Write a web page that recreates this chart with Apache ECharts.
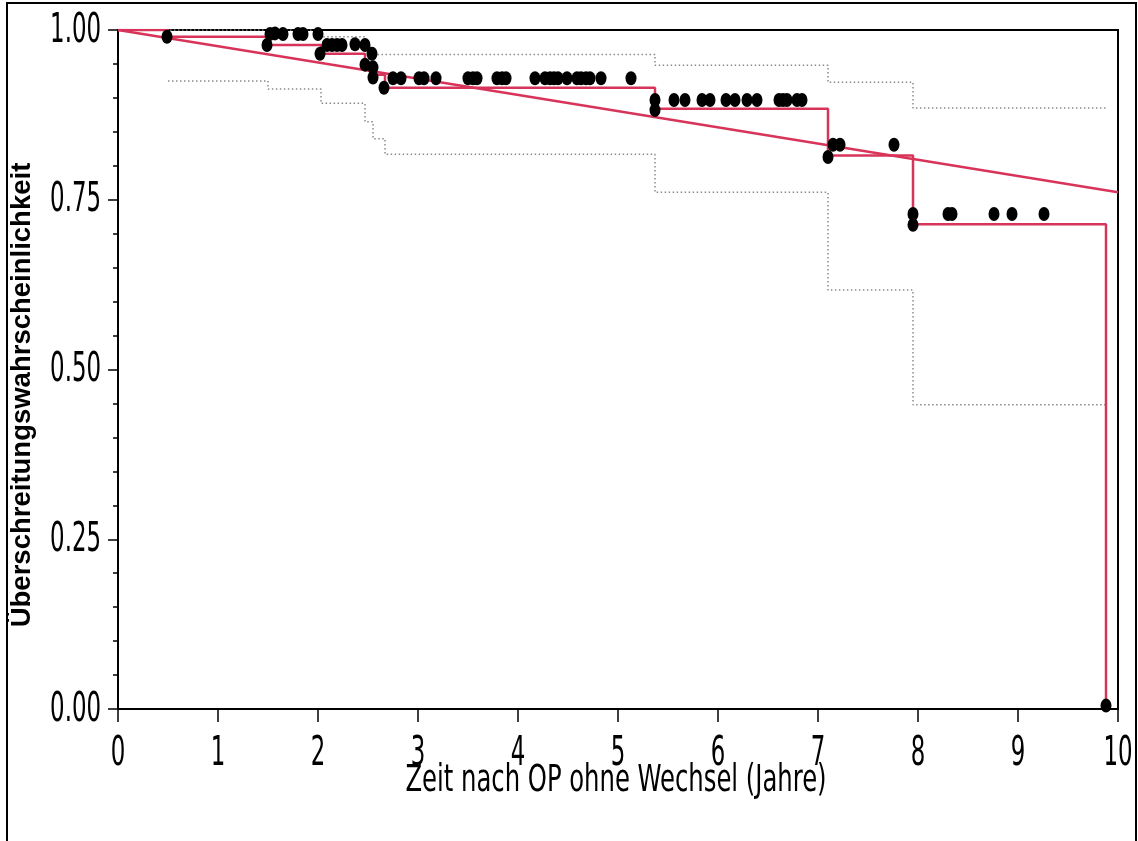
<!DOCTYPE html>
<html>
<head>
<meta charset="utf-8">
<script src="https://cdn.jsdelivr.net/npm/echarts@6/dist/echarts.min.js"></script>
<style>
  html, body { margin: 0; padding: 0; background: #fff; }
  #chart { width: 1138px; height: 841px; }
</style>
</head>
<body>
<div id="chart"></div>
<script>
// Kaplan-Meier estimate (time in years, survival after each event)
const kmTimes = [0, 0.50, 1.50, 2.03, 2.47, 2.55, 2.67, 5.37, 7.10, 7.95, 9.88];
const kmSurv  = [1.0, 0.990, 0.978, 0.965, 0.950, 0.934, 0.915, 0.884, 0.815, 0.714, 0.0];

// Upper and lower confidence bounds
const upperTimes = [0, 2.03, 2.47, 2.55, 5.37, 7.10, 7.95, 9.88];
const upperVals  = [1.0, 0.990, 0.975, 0.964, 0.948, 0.923, 0.885, 0.885];
const lowerTimes = [0.50, 1.50, 2.03, 2.47, 2.55, 2.67, 5.37, 7.10, 7.95, 9.88];
const lowerVals  = [0.925, 0.913, 0.892, 0.865, 0.840, 0.817, 0.761, 0.617, 0.448, 0.448];

// Parametric fit (straight line)
const fitX = [0, 10];
const fitY = [1.0, 0.761];

// Censored / observed markers
const censorTimes = [
  0.49, 1.49, 1.52, 1.57, 1.65, 1.80, 1.85, 2.00, 2.02,
  2.09, 2.14, 2.19, 2.24, 2.37, 2.47, 2.47, 2.54, 2.55, 2.55, 2.66,
  2.75, 2.83, 3.01, 3.06, 3.18, 3.50, 3.55, 3.59, 3.79, 3.84, 3.88,
  4.17, 4.27, 4.32, 4.36, 4.40, 4.49, 4.59, 4.63, 4.68, 4.72, 4.83, 5.13,
  5.37, 5.37, 5.56, 5.67, 5.84, 5.92, 6.08, 6.17, 6.29, 6.39, 6.61, 6.65, 6.69, 6.79, 6.84,
  7.10, 7.15, 7.22, 7.76,
  7.95, 7.95, 8.30, 8.34, 8.76, 8.94, 9.26,
  9.88
];
const censorSurv = [
  0.990, 0.978, 0.994, 0.995, 0.994, 0.994, 0.994, 0.994, 0.965,
  0.978, 0.978, 0.978, 0.978, 0.979, 0.978, 0.949, 0.965, 0.945, 0.930, 0.915,
  0.929, 0.929, 0.929, 0.929, 0.929, 0.929, 0.929, 0.929, 0.929, 0.929, 0.929,
  0.929, 0.929, 0.929, 0.929, 0.929, 0.929, 0.929, 0.929, 0.929, 0.929, 0.929, 0.929,
  0.897, 0.882, 0.897, 0.897, 0.897, 0.897, 0.897, 0.897, 0.897, 0.897, 0.897, 0.897, 0.897, 0.897, 0.897,
  0.813, 0.831, 0.831, 0.831,
  0.729, 0.713, 0.729, 0.729, 0.729, 0.729, 0.729,
  0.005
];

const xTicks = [0, 1, 2, 3, 4, 5, 6, 7, 8, 9, 10];
const yTicks = [0, 0.25, 0.5, 0.75, 1.0];
const xTitle = 'Zeit nach OP ohne Wechsel (Jahre)';
const yTitle = 'Überschreitungswahrscheinlichkeit';

const zip = (a, b) => a.map((v, i) => [v, b[i]]);
const RED = '#d8345a';
const GREY = '#8a8a8a';
const tickFont = "'DejaVu Sans Condensed', 'Liberation Sans Narrow', 'DejaVu Sans', sans-serif";
const ellipse = 'path://M0,-1A1,1 0 1,1 0,1A1,1 0 1,1 0,-1Z';

const chart = echarts.init(document.getElementById('chart'), null, { renderer: 'canvas' });
chart.setOption({
  animation: false,
  backgroundColor: '#fff',
  grid: {
    left: 118, top: 30, width: 1000, height: 679,
    show: true, borderColor: '#000', borderWidth: 2, backgroundColor: 'transparent'
  },
  xAxis: {
    type: 'value', min: 0, max: 10, interval: 1,
    axisLine: { show: true, onZero: false, lineStyle: { color: '#000', width: 2 } },
    axisTick: { show: true, length: 13, lineStyle: { color: '#000', width: 1.5 } },
    axisLabel: { show: false },
    splitLine: { show: false }
  },
  yAxis: {
    type: 'value', min: 0, max: 1, interval: 0.25,
    axisLine: { show: true, onZero: false, lineStyle: { color: '#000', width: 2 } },
    axisTick: { show: true, length: 10, lineStyle: { color: '#000', width: 1.5 } },
    minorTick: { show: true, splitNumber: 5, length: 5, lineStyle: { color: '#000', width: 1.5 } },
    axisLabel: { show: false },
    splitLine: { show: false }
  },
  series: [
    {
      type: 'line', name: 'upper', step: 'end', showSymbol: false,
      data: zip(upperTimes, upperVals),
      lineStyle: { color: GREY, width: 1.5, type: [1.5, 2.5] }, z: 2
    },
    {
      type: 'line', name: 'lower', step: 'end', showSymbol: false,
      data: zip(lowerTimes, lowerVals),
      lineStyle: { color: GREY, width: 1.5, type: [1.5, 2.5] }, z: 2
    },
    {
      type: 'line', name: 'fit', showSymbol: false,
      data: zip(fitX, fitY),
      lineStyle: { color: RED, width: 2.5 }, z: 3
    },
    {
      type: 'line', name: 'km', step: 'end', showSymbol: false,
      data: zip(kmTimes, kmSurv),
      lineStyle: { color: RED, width: 2.5 }, z: 3
    },
    {
      type: 'scatter', name: 'censored',
      data: zip(censorTimes, censorSurv),
      symbol: ellipse, symbolSize: [11, 14],
      itemStyle: { color: '#000', opacity: 1 }, z: 4
    }
  ]
});

// Tick labels in a tall, narrow face: placed through the axis scales,
// squeezed horizontally.
const axisY = chart.convertToPixel({ yAxisIndex: 0 }, 0);
const labelStyle = { fontFamily: tickFont, fontSize: 41, fill: '#000', verticalAlign: 'middle' };
const tickTexts = [];
xTicks.forEach(v => {
  tickTexts.push({
    type: 'text', silent: true, z: 100, scaleX: 0.62,
    x: chart.convertToPixel({ xAxisIndex: 0 }, v), y: axisY + 45,
    style: Object.assign({ text: String(v), align: 'center' }, labelStyle)
  });
});
yTicks.forEach(v => {
  tickTexts.push({
    type: 'text', silent: true, z: 100, scaleX: 0.62,
    x: 101, y: chart.convertToPixel({ yAxisIndex: 0 }, v) + 1,
    style: Object.assign({ text: v.toFixed(2), align: 'right' }, labelStyle)
  });
});

chart.setOption({
  graphic: [
    {
      type: 'rect', silent: true, z: 100,
      shape: { x: 7, y: 3, width: 1129, height: 840 },
      style: { fill: 'none', stroke: '#000', lineWidth: 2 }
    },
    {
      type: 'text', silent: true, z: 100,
      x: 616, y: 781, scaleX: 0.73,
      style: {
        text: xTitle, fontFamily: tickFont, fontSize: 37, fill: '#000',
        align: 'center', verticalAlign: 'middle'
      }
    },
    {
      type: 'text', silent: true, z: 100,
      x: 22, y: 395, rotation: Math.PI / 2,
      style: {
        text: yTitle,
        fontFamily: "'Liberation Sans', Arial, sans-serif",
        fontWeight: 'bold', fontSize: 27.5, fill: '#000',
        align: 'center', verticalAlign: 'middle'
      }
    }
  ].concat(tickTexts)
});
</script>
</body>
</html>
